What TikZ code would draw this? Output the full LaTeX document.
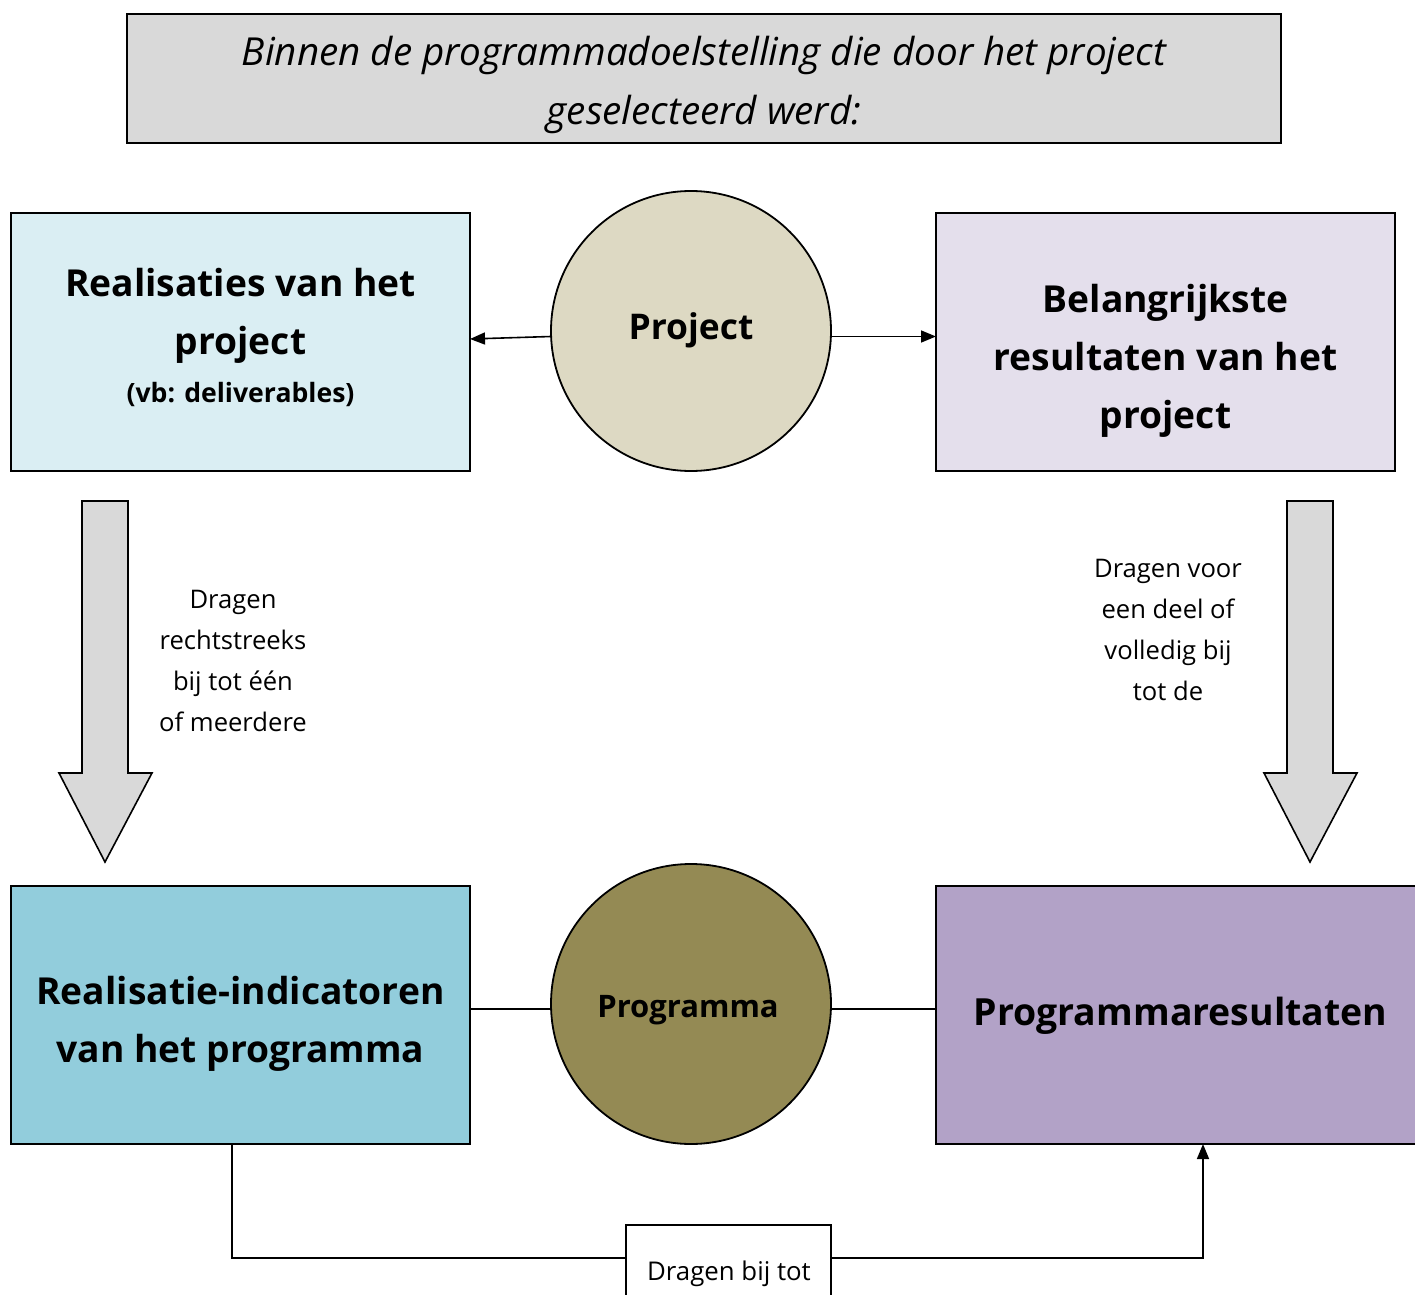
\documentclass[tikz,border=0pt]{standalone}
\usepackage{fontspec}
\setmainfont{Open Sans}
\usetikzlibrary{arrows.meta}
\definecolor{titlefill}{HTML}{D9D9D9}
\definecolor{realfill}{HTML}{DAEEF3}
\definecolor{projfill}{HTML}{DDD9C3}
\definecolor{resfill}{HTML}{E4DFEC}
\definecolor{indfill}{HTML}{92CDDC}
\definecolor{progfill}{HTML}{948A54}
\definecolor{progresfill}{HTML}{B2A2C7}
\definecolor{blockfill}{HTML}{D9D9D9}
\tikzset{
  boxshape/.style={draw=black, line width=0.9pt, rectangle, inner sep=0pt, outer sep=0pt},
  circshape/.style={draw=black, line width=0.9pt, circle, inner sep=0pt, outer sep=0pt, minimum size=140pt},
  txt/.style={inner sep=0pt, anchor=base, align=center},
  bigbold/.style={txt, font=\fontsize{18.6}{21}\selectfont\bfseries},
  lbl/.style={txt, font=\fontsize{12.8}{15}\selectfont},
  conn/.style={draw=black, line width=0.8pt},
  arr/.style={conn, -{Triangle[length=7.5pt,width=6pt]}},
  blockarrow/.style={draw=black, line width=0.8pt, fill=blockfill, line join=miter}
}
\begin{document}
\begin{tikzpicture}[x=0.5pt,y=-0.5pt]
\useasboundingbox (0,0) rectangle (1415,1295);

% title box
\node[boxshape, fill=titlefill, minimum width=577pt, minimum height=64.5pt] (title) at (704,78.5) {};
\node[txt, font=\fontsize{19.3}{22}\selectfont\itshape] (title1) at (704,66) {Binnen de programmadoelstelling die door het project};
\node[txt, font=\fontsize{19.3}{22}\selectfont\itshape] (title2) at (704,125) {geselecteerd werd:};

% top boxes
\node[boxshape, fill=realfill, minimum width=229.5pt, minimum height=129pt] (real) at (240.5,342) {};
\node[bigbold] (real1) at (240.5,296) {Realisaties van het};
\node[bigbold] (real2) at (240.5,354) {project};
\node[txt, font=\fontsize{13.3}{16}\selectfont\bfseries] (real3) at (240.5,402) {(vb: deliverables)};

\node[circshape, fill=projfill] (project) at (691,331) {};
\node[txt, font=\fontsize{17.7}{21}\selectfont\bfseries] (projtxt) at (691,339) {Project};

\node[boxshape, fill=resfill, minimum width=229.5pt, minimum height=129pt] (res) at (1165.5,342) {};
\node[bigbold] (res1) at (1165.5,312) {Belangrijkste};
\node[bigbold] (res2) at (1165.5,370) {resultaten van het};
\node[bigbold] (res3) at (1165.5,428) {project};

\draw[arr] ([yshift=-2.75pt]project.west) -- ([yshift=1.5pt]real.east);
\draw[arr] ([yshift=-2.75pt]project.east) -- ([yshift=2.75pt]res.west);

% block arrows
\draw[blockarrow] (82,501) -- (128,501) -- (128,773) -- (152,773) -- (105,862) -- (59,773) -- (82,773) -- cycle;
\draw[blockarrow] (1287,501) -- (1333,501) -- (1333,773) -- (1357,773) -- (1310,862) -- (1264,773) -- (1287,773) -- cycle;

\node[lbl] (l1) at (233,608) {Dragen};
\node[lbl] (l2) at (233,649) {rechtstreeks};
\node[lbl] (l3) at (233,690) {bij tot één};
\node[lbl] (l4) at (233,731) {of meerdere};

\node[lbl] (r1) at (1168,577) {Dragen voor};
\node[lbl] (r2) at (1168,618) {een deel of};
\node[lbl] (r3) at (1168,659) {volledig bij};
\node[lbl] (r4) at (1168,700) {tot de};

% bottom boxes
\node[boxshape, fill=indfill, minimum width=229.5pt, minimum height=129pt] (ind) at (240.5,1015) {};
\node[txt, font=\fontsize{18.6}{21}\selectfont\bfseries] (ind1) at (240.5,1004) {Realisatie-indicatoren};
\node[txt, font=\fontsize{18.6}{21}\selectfont\bfseries] (ind2) at (240.5,1062) {van het programma};

\node[circshape, fill=progfill] (prog) at (691,1004) {};
\node[txt, font=\fontsize{15.5}{18}\selectfont\bfseries] (progtxt) at (688,1017) {Programma};

\node[boxshape, fill=progresfill, minimum width=244.5pt, minimum height=129pt] (progres) at (1180.5,1015) {};
\node[txt, font=\fontsize{18.7}{21}\selectfont\bfseries] (progres1) at (1180.5,1025) {Programmaresultaten};

\draw[conn] ([yshift=3pt]ind.east) -- ([yshift=-2.5pt]prog.west);
\draw[conn] ([yshift=-2.5pt]prog.east) -- ([yshift=3pt]progres.west);

% bottom connector
\node[boxshape, fill=white, minimum width=102.5pt, minimum height=42.5pt] (dragen) at (728.5,1267.5) {};
\node[txt, font=\fontsize{12.9}{15}\selectfont] (dragentxt) at (729,1280) {Dragen bij tot};
\draw[conn] ([xshift=-4.25pt]ind.south) |- ([yshift=4.75pt]dragen.west);
\draw[arr] ([yshift=4.75pt]dragen.east) -| ([xshift=11.25pt]progres.south);
\end{tikzpicture}
\end{document}
